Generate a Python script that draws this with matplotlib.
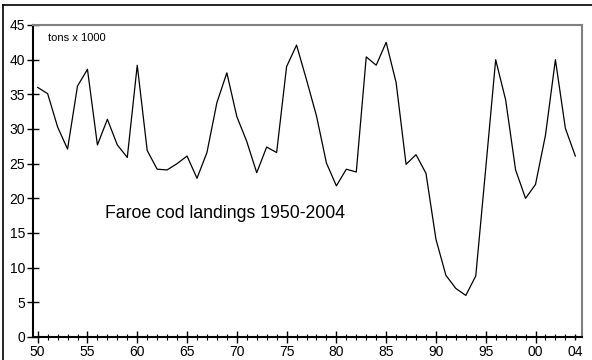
import matplotlib
matplotlib.use('Agg')
import matplotlib.pyplot as plt
from matplotlib.lines import Line2D
import numpy as np

# Faroe cod landings, thousand tons
years = list(range(1950, 2005))
landings = [36.0, 35.1, 30.3, 27.1, 36.2, 38.6, 27.7, 31.4, 27.7, 25.9,
            39.2, 26.9, 24.2, 24.1, 25.0, 26.1, 22.9, 26.6, 33.8, 38.1,
            31.8, 28.2, 23.7, 27.4, 26.6, 39.0, 42.1, 37.1, 31.9, 25.1,
            21.8, 24.2, 23.8, 40.4, 39.2, 42.5, 36.7, 24.9, 26.3, 23.6,
            14.1, 8.9, 7.0, 6.0, 8.8, 24.3, 40.0, 34.2, 24.1, 20.0,
            22.0, 29.1, 40.0, 30.1, 26.1]

major_years = [1950, 1955, 1960, 1965, 1970, 1975, 1980, 1985, 1990, 1995, 2000, 2004]
major_labels = ['50', '55', '60', '65', '70', '75', '80', '85', '90', '95', '00', '04']
y_ticks = [0, 5, 10, 15, 20, 25, 30, 35, 40, 45]

plt.rcParams['font.family'] = ['Liberation Sans', 'DejaVu Sans']

W, H = 592, 360
fig = plt.figure(figsize=(W / 100, H / 100), dpi=100)
ax = fig.add_axes([33 / W, 23 / H, 549 / W, 312 / H])

ax.plot(years, landings, color='black', linewidth=0.9)

ax.set_xlim(1949.53, 2004.67)
ax.set_ylim(0, 45)

ax.set_xticks(major_years)
ax.set_xticklabels(major_labels)
ax.set_xticks(years, minor=True)
ax.set_yticks(y_ticks)

ax.tick_params(axis='both', which='major', direction='inout', length=9, width=1.0,
               labelsize=10, colors='black')
ax.tick_params(axis='x', which='minor', direction='inout', length=5, width=0.8)
ax.tick_params(axis='x', which='major', pad=1)
ax.tick_params(axis='y', which='major', pad=1)
# 2004 only carries a small tick
last = ax.xaxis.get_major_ticks()[-1]
last.tick1line.set_markersize(5)

for side in ['left', 'bottom']:
    ax.spines[side].set_color('black')
    ax.spines[side].set_linewidth(1.5)
for side in ['top', 'right']:
    ax.spines[side].set_color('#808080')
    ax.spines[side].set_linewidth(1.5)

fig.text(48 / W, 1 - 38 / H, 'tons x 1000', fontsize=8, va='center', ha='left')
fig.text(105 / W, 1 - 214 / H, 'Faroe cod landings 1950-2004', fontsize=12.7,
         va='center', ha='left')

fig.add_artist(Line2D([3 / W, 1.0], [1 - 5 / H, 1 - 5 / H], color='black', linewidth=1.2,
                      transform=fig.transFigure))
fig.add_artist(Line2D([3 / W, 3 / W], [0.0, 1 - 5 / H], color='black', linewidth=1.2,
                      transform=fig.transFigure))

fig.savefig('out.png', dpi=100)
